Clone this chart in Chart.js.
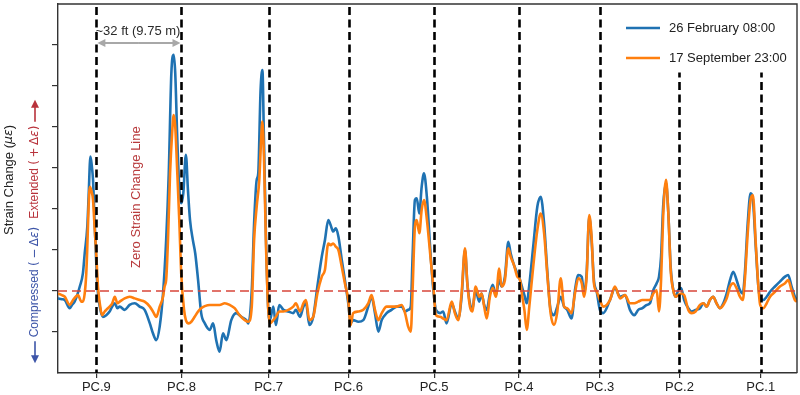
<!DOCTYPE html>
<html>
<head>
<meta charset="utf-8">
<script src="https://cdn.jsdelivr.net/npm/chart.js@4.4.1/dist/chart.umd.min.js"></script>
<style>
  html, body { margin: 0; padding: 0; background: #fff; }
  canvas { display: block; }
</style>
</head>
<body>
<canvas id="strain" width="800" height="395"></canvas>
<script>
// distance along the pipe (ft) and strain change (one unit per y tick)
const pcLabels = ['PC.9', 'PC.8', 'PC.7', 'PC.6', 'PC.5', 'PC.4', 'PC.3', 'PC.2', 'PC.1'];
const pcPositions = [14.8, 47.6, 81.2, 112.0, 145.0, 177.7, 208.9, 239.6, 270.9];

const febDist = [
  0, 1.5, 2.6, 4.5, 5.4, 6.4, 7.4, 8.4, 9.6, 10.3, 11.3, 11.8, 12.5, 13.0, 13.5, 13.9, 14.4, 15.2, 16.1, 17.3,
  18.6, 19.9, 20.9, 21.9, 22.9, 23.8, 25.7, 27.6, 29.6, 31.5, 33.4, 35.4, 36.6, 37.9, 39.2, 40.5, 41.7, 42.7, 43.7, 44.6,
  45.2, 46.0, 46.8, 47.5, 48.3, 49.3, 50.1, 50.9, 52.0, 52.9, 54.0, 55.2, 56.6, 58.5, 59.8, 61.0, 62.3, 63.6, 64.9, 66.8,
  68.7, 70.7, 72.6, 73.4, 74.7, 75.6, 76.6, 77.2, 78.1, 78.8, 79.4, 80.2, 81.0, 81.7, 83.0, 84.0, 85.3, 86.9, 88.8, 90.7,
  91.7, 93.3, 94.6, 95.6, 96.9, 98.4, 100.0, 101.7, 102.9, 104.2, 105.1, 106.1, 107.1, 108.1, 109.4, 110.6, 111.9, 112.8, 113.8, 115.8,
  117.7, 119.6, 120.9, 122.2, 123.5, 124.8, 126.7, 128.6, 130.6, 132.5, 133.8, 135.0, 136.0, 136.7, 137.6, 138.3, 139.3, 140.2, 141.1, 142.2,
  143.7, 144.7, 145.7, 147.3, 148.5, 149.8, 151.8, 153.0, 154.3, 155.6, 156.9, 157.8, 158.8, 159.7, 161.0, 162.4, 163.3, 164.3, 165.3, 166.5,
  167.6, 168.8, 170.1, 171.0, 172.3, 173.6, 174.5, 175.8, 177.1, 178.1, 179.0, 179.8, 180.7, 181.7, 183.2, 184.8, 186.1, 187.4, 188.6, 189.9,
  191.2, 192.5, 193.8, 195.1, 196.3, 198.0, 199.3, 200.6, 201.9, 202.8, 203.8, 204.8, 205.7, 206.6, 207.7, 208.9, 210.2, 212.8, 214.7, 216.7,
  218.6, 220.5, 222.2, 223.7, 225.3, 226.9, 228.2, 229.5, 230.8, 231.7, 232.5, 233.3, 234.4, 235.3, 236.2, 237.2, 238.2, 239.1, 240.2, 241.4,
  243.0, 244.3, 245.8, 247.5, 248.8, 250.1, 251.3, 252.6, 253.9, 255.2, 256.5, 257.8, 259.1, 260.3, 261.6, 262.9, 264.0, 264.8, 265.9, 267.0,
  267.9, 269.0, 270.0, 270.7, 271.9, 273.2, 274.5, 276.4, 278.3, 280.3, 281.5, 282.8, 284.1, 284.9
];
const febStrain = [
  -0.18, -0.20, -0.22, -0.42, -0.34, -0.26, -0.10, 0.11, 0.43, 0.92, 1.57, 2.30, 3.28, 3.07, 2.71, 2.06, 1.24, 0.11, -0.38, -0.63,
  -0.59, -0.50, -0.38, -0.30, -0.42, -0.38, -0.46, -0.34, -0.30, -0.38, -0.46, -0.79, -1.03, -1.20, -0.87, -0.06, 1.24, 2.87, 5.31, 5.76,
  5.31, 3.68, 2.46, 2.14, 2.38, 3.32, 2.46, 1.73, 1.24, 0.92, 0.27, -0.54, -0.79, -0.95, -0.79, -1.20, -1.48, -1.03, -1.20, -0.71,
  -0.54, -0.63, -0.71, -0.79, 0.02, 1.65, 2.71, 2.87, 4.90, 5.39, 3.68, 1.24, -0.38, -0.71, -0.38, -0.83, -0.34, -0.46, -0.50, -0.54,
  -0.46, -0.63, -0.38, -0.30, -0.83, -0.63, 0.11, 0.84, 1.24, 1.73, 1.61, 1.45, 1.53, 1.33, 0.76, 0.27, -0.30, -0.79, -0.71, -0.75,
  -0.71, -0.38, -0.14, -0.54, -0.99, -0.71, -0.54, -0.46, -0.38, -0.38, -0.50, -0.46, -0.38, 0.84, 2.22, 2.26, 1.89, 2.54, 2.87, 2.30,
  0.84, 0.02, -0.46, -0.54, -0.50, -0.79, -0.30, -0.50, -0.67, -0.14, 1.00, 0.19, -0.30, -0.46, 0.02, -0.26, -0.06, -0.34, -0.46, -0.06,
  0.15, -0.10, 0.27, 0.11, 0.35, 1.20, 0.92, 0.63, 0.43, 0.27, 0.07, -0.10, -0.30, 0.15, 1.08, 2.06, 2.30, 1.65, 0.51, -0.46,
  -0.59, -0.38, -0.14, -0.38, -0.46, -0.67, 0.02, 0.39, 0.35, -0.06, 0.43, 1.81, 1.24, 0.27, -0.02, -0.46, -0.54, -0.22, 0.07, -0.14,
  -0.10, -0.46, -0.59, -0.46, -0.42, -0.34, -0.30, 0.02, 0.19, 0.35, 0.84, 2.06, 2.63, 1.89, 0.59, 0.02, -0.14, 0.02, 0.07, -0.22,
  -0.42, -0.50, -0.46, -0.42, -0.30, -0.38, -0.22, -0.14, -0.30, -0.42, -0.30, -0.06, 0.27, 0.47, 0.27, 0.02, -0.06, 0.43, 1.65, 2.38,
  2.22, 1.08, 0.11, -0.18, -0.22, -0.14, -0.02, 0.11, 0.23, 0.35, 0.39, 0.11, -0.14, -0.22
];

const sepDist = [
  0, 1.5, 2.6, 4.5, 5.8, 7.1, 7.7, 9.0, 9.6, 10.3, 10.9, 11.3, 11.8, 12.3, 12.8, 13.5, 14.1, 14.8, 15.4, 16.1,
  17.0, 18.0, 18.6, 19.9, 20.9, 21.9, 22.9, 23.8, 25.7, 27.6, 29.6, 31.5, 33.4, 35.4, 36.6, 37.9, 39.2, 40.5, 41.1, 41.7,
  42.4, 43.2, 44.0, 44.6, 45.2, 46.0, 46.8, 47.5, 48.6, 49.3, 50.4, 51.4, 52.7, 54.0, 55.2, 56.6, 58.5, 60.4, 62.3, 64.3,
  66.2, 68.1, 70.0, 72.0, 73.4, 74.7, 75.6, 76.6, 77.6, 78.3, 78.8, 79.4, 80.2, 81.0, 81.7, 83.0, 84.0, 85.3, 86.9, 88.8,
  90.7, 91.7, 93.3, 94.6, 95.6, 96.9, 98.4, 100.0, 101.7, 102.9, 104.2, 105.1, 106.1, 107.1, 108.1, 109.4, 110.6, 111.9, 112.8, 113.8,
  115.8, 117.7, 119.6, 120.9, 122.2, 123.5, 124.8, 126.7, 128.6, 130.6, 132.5, 133.8, 135.0, 136.0, 136.7, 137.6, 138.3, 139.3, 140.2, 141.1,
  142.2, 143.7, 144.7, 145.7, 147.3, 148.5, 149.8, 151.8, 153.0, 154.3, 155.6, 156.9, 157.8, 158.8, 159.7, 161.0, 162.4, 163.3, 164.3, 165.3,
  166.5, 167.6, 168.8, 170.1, 171.0, 172.3, 173.6, 174.5, 175.8, 177.1, 178.1, 179.0, 179.8, 180.7, 181.7, 183.2, 184.8, 186.1, 187.4, 188.6,
  189.9, 191.2, 192.5, 193.8, 195.1, 196.3, 198.0, 199.3, 200.6, 201.9, 202.8, 203.8, 204.8, 205.7, 206.6, 207.7, 208.9, 210.2, 212.8, 214.7,
  216.7, 218.6, 220.5, 222.2, 223.7, 225.3, 226.9, 228.2, 229.5, 230.8, 231.7, 232.5, 233.3, 234.4, 235.3, 236.2, 237.2, 238.2, 239.1, 240.2,
  241.4, 243.0, 244.3, 245.8, 247.5, 248.8, 250.1, 251.3, 252.6, 253.9, 255.2, 256.5, 257.8, 259.1, 260.3, 261.6, 262.9, 264.0, 264.8, 265.9,
  267.0, 267.9, 269.0, 270.0, 270.7, 271.9, 273.2, 274.5, 276.4, 278.3, 280.3, 281.5, 282.8, 284.1, 284.9
];
const sepStrain = [
  -0.06, -0.10, -0.14, -0.34, -0.22, -0.12, -0.10, -0.26, -0.26, -0.06, 0.43, 1.08, 2.06, 2.54, 2.46, 2.22, 1.57, 0.84, 0.11, -0.30,
  -0.59, -0.50, -0.46, -0.38, -0.30, -0.14, -0.30, -0.26, -0.18, -0.14, -0.18, -0.22, -0.26, -0.38, -0.50, -0.63, -0.38, -0.14, 0.11, 0.27,
  1.24, 2.87, 3.85, 4.29, 4.01, 2.87, 1.65, 0.43, -0.46, -0.71, -0.79, -0.75, -0.63, -0.50, -0.42, -0.37, -0.34, -0.34, -0.34, -0.30,
  -0.34, -0.42, -0.59, -0.71, -0.75, -0.38, 1.24, 2.06, 2.71, 3.68, 4.13, 3.28, 1.08, -0.38, -0.79, -0.71, -0.63, -0.50, -0.50, -0.46,
  -0.38, -0.30, -0.50, -0.30, -0.22, -0.71, -0.63, -0.06, 0.35, 0.51, 1.16, 1.12, 1.16, 1.08, 1.00, 0.59, 0.19, -0.22, -0.83, -0.54,
  -0.50, -0.46, -0.30, -0.10, -0.46, -0.71, -0.54, -0.38, -0.38, -0.38, -0.34, -0.54, -0.87, -0.99, 0.02, 1.57, 1.73, 1.41, 1.98, 2.22,
  1.75, 0.76, 0.11, -0.59, -0.63, -0.67, -0.71, -0.26, -0.54, -0.71, -0.06, 1.04, 0.19, -0.38, -0.50, 0.11, -0.14, -0.06, -0.38, -0.67,
  -0.14, 0.07, -0.14, 0.55, 0.11, 0.27, 1.04, 0.84, 0.63, 0.35, 0.27, -0.14, -0.46, -0.95, -0.38, 0.59, 1.49, 1.89, 1.41, 0.43,
  -0.54, -0.83, -0.50, 0.31, -0.38, -0.42, -0.54, -0.06, 0.31, 0.19, -0.14, 0.35, 1.85, 1.33, 0.19, -0.02, -0.22, -0.38, -0.22, 0.11,
  -0.18, -0.10, -0.30, -0.30, -0.26, -0.22, -0.22, -0.22, -0.06, 0.02, -0.50, 0.27, 1.81, 2.71, 1.89, 0.51, 0.02, -0.14, -0.10, -0.06,
  -0.10, -0.46, -0.54, -0.50, -0.34, -0.30, -0.38, -0.22, -0.14, -0.30, -0.42, -0.34, -0.18, 0.11, 0.19, 0.07, -0.14, -0.22, 0.27, 1.41,
  2.22, 2.34, 1.16, 0.11, -0.34, -0.42, -0.30, -0.14, -0.02, 0.11, 0.19, 0.27, 0.02, -0.22, -0.26
];

const FONT = "'Liberation Sans', Arial, sans-serif";
const MATH = "'DejaVu Sans', sans-serif";
const BLUE = '#1f72b2';
const ORANGE = '#ff7f0e';
const AXIS = '#333333';

// draw a row of text pieces one after the other (optional pad before each), returns the end x
function drawRuns(ctx, runs, x, y) {
  runs.forEach(r => {
    x += r.pad || 0;
    ctx.font = r.font;
    ctx.fillStyle = r.color;
    ctx.fillText(r.text, x, y);
    x += ctx.measureText(r.text).width;
  });
  return x;
}
function runsWidth(ctx, runs) {
  return runs.reduce((w, r) => { ctx.font = r.font; return w + (r.pad || 0) + ctx.measureText(r.text).width; }, 0);
}
function arrow(ctx, x1, y1, x2, y2, color, width, head) {
  const a = Math.atan2(y2 - y1, x2 - x1);
  ctx.strokeStyle = color;
  ctx.fillStyle = color;
  ctx.lineWidth = width;
  ctx.setLineDash([]);
  ctx.beginPath();
  ctx.moveTo(x1, y1);
  ctx.lineTo(x2 - Math.cos(a) * head * 0.8, y2 - Math.sin(a) * head * 0.8);
  ctx.stroke();
  ctx.beginPath();
  ctx.moveTo(x2, y2);
  ctx.lineTo(x2 - Math.cos(a) * head + Math.sin(a) * head * 0.5, y2 - Math.sin(a) * head - Math.cos(a) * head * 0.5);
  ctx.lineTo(x2 - Math.cos(a) * head - Math.sin(a) * head * 0.5, y2 - Math.sin(a) * head + Math.cos(a) * head * 0.5);
  ctx.closePath();
  ctx.fill();
}
// "Word (±Δε)" with math-like spacing
function labelRuns(word, sign, color) {
  const reg = '12px ' + FONT, m = '12px ' + MATH, mi = 'oblique 12px ' + MATH;
  return [
    { text: word + ' ', font: reg, color },
    { text: '(', font: m, color },
    { text: sign, font: m, color, pad: 2.5 },
    { text: '\u0394', font: m, color, pad: 2.5 },
    { text: '\u03b5', font: mi, color },
    { text: ')', font: m, color }
  ];
}

const guides = {
  id: 'guides',
  afterDatasetsDraw(chart) {
    const { ctx, chartArea: a, scales: { x, y } } = chart;
    ctx.save();
    // zero strain change line
    const y0 = y.getPixelForValue(0);
    ctx.strokeStyle = '#d8453a';
    ctx.lineWidth = 1.6;
    ctx.setLineDash([9, 5]);
    ctx.beginPath();
    ctx.moveTo(a.left, y0);
    ctx.lineTo(a.right, y0);
    ctx.stroke();
    // pile cap positions
    ctx.strokeStyle = '#000';
    ctx.lineWidth = 2.6;
    ctx.setLineDash([8, 4.5]);
    pcPositions.forEach(v => {
      const px = Math.round(x.getPixelForValue(v)) + 0.5;
      ctx.beginPath();
      ctx.moveTo(px, a.top + 3);
      ctx.lineTo(px, a.bottom);
      ctx.stroke();
    });
    ctx.restore();
  },
  afterDraw(chart) {
    const { ctx, chartArea: a, scales: { x, y } } = chart;
    ctx.save();
    ctx.setLineDash([]);

    // frame top and right
    ctx.strokeStyle = AXIS;
    ctx.lineWidth = 1.4;
    ctx.beginPath();
    ctx.moveTo(a.left, a.top);
    ctx.lineTo(a.right, a.top);
    ctx.lineTo(a.right, a.bottom);
    ctx.stroke();

    // spacing annotation between PC.9 and PC.8
    const xa = x.getPixelForValue(pcPositions[0]);
    const xb = x.getPixelForValue(pcPositions[1]);
    const ya = y.getPixelForValue(6.05);
    arrow(ctx, (xa + xb) / 2, ya, xa + 1, ya, '#a8a8a8', 2, 8);
    arrow(ctx, (xa + xb) / 2, ya, xb - 1, ya, '#a8a8a8', 2, 8);
    ctx.font = '13px ' + FONT;
    ctx.fillStyle = '#2a2a2a';
    ctx.textAlign = 'center';
    ctx.textBaseline = 'middle';
    ctx.fillText('~32 ft (9.75 m)', (xa + xb) / 2 - 1, ya - 12);

    // zero strain label
    ctx.save();
    ctx.translate(x.getPixelForValue(30.1), y.getPixelForValue(2.29));
    ctx.rotate(-Math.PI / 2);
    ctx.fillStyle = '#b83a3c';
    ctx.fillText('Zero Strain Change Line', 0, 0);
    ctx.restore();

    // legend
    const lx = a.right - 193;
    ctx.fillStyle = '#fff';
    ctx.fillRect(lx, a.top + 1.5, 192, 67);
    [[BLUE, '26 February 08:00', 28], [ORANGE, '17 September 23:00', 58]].forEach(([c, t, ly]) => {
      ctx.strokeStyle = c;
      ctx.lineWidth = 2.5;
      ctx.beginPath();
      ctx.moveTo(lx + 22, ly);
      ctx.lineTo(lx + 56, ly);
      ctx.stroke();
      ctx.fillStyle = '#222';
      ctx.textAlign = 'left';
      ctx.font = '13px ' + FONT;
      ctx.fillText(t, lx + 65, ly);
    });

    // y axis title, two rotated lines
    const midY = (a.top + a.bottom) / 2;
    ctx.textAlign = 'left';
    ctx.save();
    ctx.translate(9, 180);
    ctx.rotate(-Math.PI / 2);
    const line1 = [
      { text: 'Strain Change (', font: '13px ' + FONT, color: '#222' },
      { text: '\u03bc\u03b5', font: 'oblique 12.5px ' + MATH, color: '#222' },
      { text: ')', font: '13px ' + FONT, color: '#222' }
    ];
    drawRuns(ctx, line1, -runsWidth(ctx, line1) / 2, 0);
    ctx.restore();

    const cBlue = '#3d55a8', cRed = '#b8323b';
    const comp = labelRuns('Compressed', '\u2212', cBlue);
    const ext = labelRuns('Extended', '+', cRed);
    const arrowLen = 22, gap = 4, mid = 8;
    const total = arrowLen + gap + runsWidth(ctx, comp) + mid + runsWidth(ctx, ext) + gap + arrowLen;
    ctx.save();
    ctx.translate(35, midY + 43);
    ctx.rotate(-Math.PI / 2);
    let u = -total / 2;
    arrow(ctx, u + arrowLen, 0, u, 0, cBlue, 1.6, 8);
    u += arrowLen + gap;
    u = drawRuns(ctx, comp, u, 0);
    u += mid;
    u = drawRuns(ctx, ext, u, 0);
    u += gap;
    arrow(ctx, u, 0, u + arrowLen, 0, cRed, 1.6, 8);
    ctx.restore();

    ctx.restore();
  }
};

new Chart(document.getElementById('strain'), {
  type: 'line',
  data: {
    datasets: [
      {
        label: '26 February 08:00',
        data: febDist.map((d, i) => ({ x: d, y: febStrain[i] })),
        borderColor: BLUE,
        order: 1
      },
      {
        label: '17 September 23:00',
        data: sepDist.map((d, i) => ({ x: d, y: sepStrain[i] })),
        borderColor: ORANGE,
        order: 0
      }
    ]
  },
  options: {
    responsive: false,
    animation: false,
    layout: { padding: { top: 4, right: 3, left: 0, bottom: 0 } },
    elements: {
      line: { borderWidth: 2.6, cubicInterpolationMode: 'monotone', borderJoinStyle: 'round', fill: false },
      point: { radius: 0 }
    },
    plugins: { legend: { display: false }, tooltip: { enabled: false } },
    scales: {
      x: {
        type: 'linear',
        min: 0,
        max: 284.9,
        afterBuildTicks: axis => { axis.ticks = pcPositions.map(v => ({ value: v })); },
        afterFit: scale => { scale.height = 22; },
        ticks: {
          autoSkip: false,
          maxRotation: 0,
          padding: 2,
          color: '#222',
          font: { family: FONT, size: 13 },
          callback: (v, i) => pcLabels[i]
        },
        grid: { drawOnChartArea: false, drawTicks: true, tickLength: 5, color: AXIS, lineWidth: 1.2 },
        border: { color: AXIS, width: 1.4 }
      },
      y: {
        min: -2,
        max: 7,
        afterBuildTicks: axis => { axis.ticks = axis.ticks.filter(t => t.value > -2 && t.value < 7); },
        afterFit: scale => { scale.width = 58; },
        ticks: { display: false, stepSize: 1 },
        grid: { drawOnChartArea: false, drawTicks: true, tickLength: 6, color: AXIS, lineWidth: 1.2 },
        border: { color: AXIS, width: 1.4 }
      }
    }
  },
  plugins: [guides]
});
</script>
</body>
</html>
